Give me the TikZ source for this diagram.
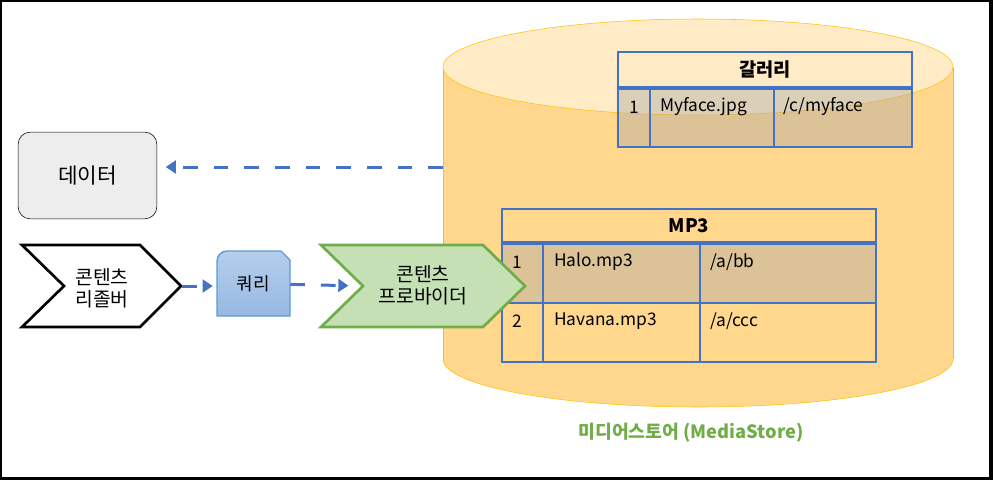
\documentclass[tikz,border=0pt]{standalone}
\usepackage{fontspec}
\setmainfont{Noto Sans CJK KR}
\usetikzlibrary{arrows.meta}
\definecolor{boxgray}{HTML}{EDEDED}
\definecolor{storefill}{HTML}{FFD88E}
\definecolor{storetop}{HTML}{FFEBC6}
\definecolor{storeline}{HTML}{FFC000}
\definecolor{tableline}{HTML}{4472C4}
\definecolor{rowshade}{HTML}{A5A5A5}
\definecolor{provfill}{HTML}{C5E0B4}
\definecolor{provline}{HTML}{70AD47}
\definecolor{queryline}{HTML}{5B9BD5}
\definecolor{querytop}{HTML}{B5CEEC}
\definecolor{querybot}{HTML}{96B9E2}

\begin{document}
\begin{tikzpicture}[x=0.75pt,y=-0.75pt,
  flow/.style={draw=tableline,line width=2.25pt,dash pattern=on 11pt off 12pt,
    -{Triangle[length=7.5pt,width=9.5pt]}},
  grid/.style={draw=tableline,line width=1.5pt},
  cell/.style={inner sep=0pt,font=\fontsize{13pt}{16pt}\selectfont},
  head/.style={cell,font=\fontsize{14pt}{16pt}\selectfont\bfseries},
  label/.style={inner sep=0pt,align=center,font=\fontsize{14.5pt}{16.5pt}\selectfont}]

  \useasboundingbox (0,0) rectangle (993,480);
  \draw[line width=1.5pt] (1,1) rectangle (990,478);
  \fill (989,0) rectangle (993,480);
  \fill (0,477) rectangle (993,480);

  % media store
  \filldraw[fill=storefill,draw=storeline] (698,359) ellipse [x radius=255,y radius=48];
  \fill[storefill] (443,67) rectangle (953,359);
  \draw[storeline] (443,67) -- (443,359) (953,67) -- (953,359);
  \filldraw[fill=storetop,draw=storeline] (698,67) ellipse [x radius=255,y radius=48];
  \coordinate (store) at (443,167);
  \node[inner sep=0pt,text=provline,font=\fontsize{13.7pt}{16pt}\selectfont\bfseries]
    (storename) at (691,433) {미디어스토어 (MediaStore)};

  % gallery table
  \fill[rowshade,opacity=0.4] (618,88) rectangle (912,147);
  \draw[grid] (618,52) rectangle (912,147) (650,88) -- (650,147) (774,88) -- (774,147);
  \draw[grid,line width=2.5pt] (618,88) -- (912,88);
  \node[head] (galtitle) at (765,70) {갈러리};
  \node[cell] (galno) at (634,107) {1};
  \node[cell,anchor=west] (galname) at (660,107) {Myface.jpg};
  \node[cell,anchor=west] (galpath) at (783,107) {/c/myface};

  % mp3 table
  \fill[rowshade,opacity=0.4] (502,243) rectangle (876,303);
  \draw[grid] (502,209) rectangle (876,362) (502,303) -- (876,303)
    (543,243) -- (543,362) (700,243) -- (700,362);
  \draw[grid,line width=2.5pt] (502,243) -- (876,243);
  \node[head] (mptitle) at (689,226) {MP3};
  \node[cell] (mpno1) at (517,262) {1};
  \node[cell,anchor=west] (mpname1) at (554,262) {Halo.mp3};
  \node[cell,anchor=west] (mppath1) at (710,262) {/a/bb};
  \node[cell] (mpno2) at (517,321) {2};
  \node[cell,anchor=west] (mpname2) at (554,321) {Havana.mp3};
  \node[cell,anchor=west] (mppath2) at (710,321) {/a/ccc};

  % data
  \node[draw,fill=boxgray,rounded corners=9pt,minimum width=104pt,minimum height=65pt,
    font=\fontsize{16pt}{19pt}\selectfont] (data) at (87.5,175.5) {데이터};

  % resolver, query, provider
  \draw[line width=2pt,fill=white] (22,245) -- (140,245) -- (181,286) -- (140,327)
    -- (22,327) -- (64,286) -- cycle;
  \coordinate (resolvertip) at (182,286);
  \node[label] (resolver) at (102,288) {콘텐츠\\리졸버};

  \shade[top color=querytop,bottom color=querybot] (217,316) -- (217,261)
    arc[start angle=180,end angle=270,radius=10] -- (281,251) -- (290,260) -- (290,316) -- cycle;
  \draw[queryline,line width=1pt] (217,316) -- (217,261)
    arc[start angle=180,end angle=270,radius=10] -- (281,251) -- (290,260) -- (290,316) -- cycle;
  \node[label,minimum width=54.75pt,minimum height=48.75pt,font=\fontsize{13.5pt}{16pt}\selectfont]
    (query) at (253.5,283.5) {쿼리};

  \draw[provline,line width=2pt,fill=provfill] (321,245) -- (483,245) -- (525,286) -- (483,327)
    -- (321,327) -- (363,286) -- cycle;
  \coordinate (providernotch) at (363,286);
  \node[label] (provider) at (423,285) {콘텐츠\\프로바이더};

  \path (store) edge[flow,shorten >=6.5pt] (store -| data.east)
    (resolvertip) edge[flow,shorten >=3pt] (resolvertip -| query.west)
    (query) edge[flow,shorten >=11pt] (providernotch);
\end{tikzpicture}
\end{document}
